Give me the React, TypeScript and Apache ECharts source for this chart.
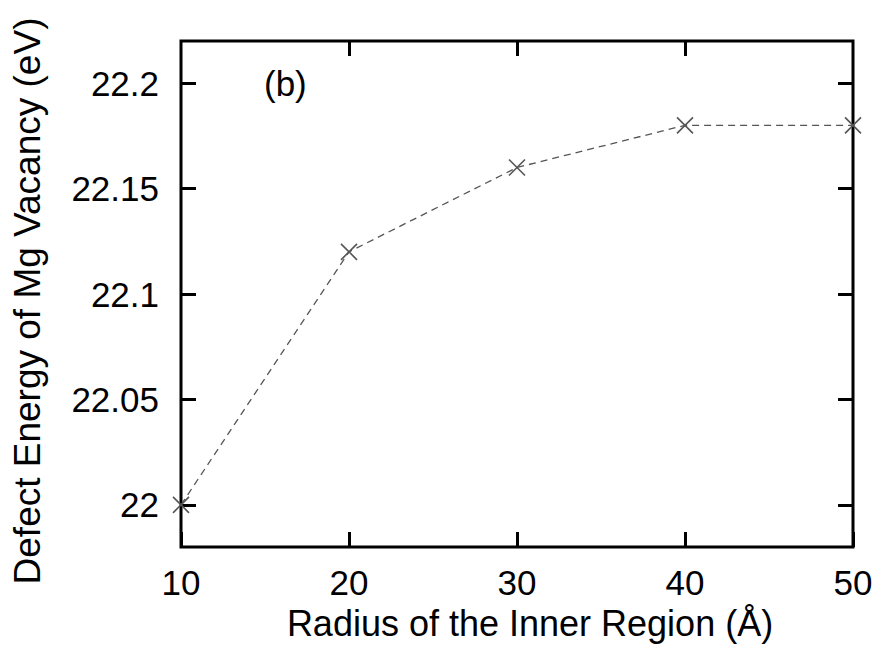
import React, { useEffect, useRef } from "react";
import * as echarts from "echarts";

const radius = [10, 20, 30, 40, 50];
const energy = [22.0, 22.12, 22.16, 22.18, 22.18];
const yTicks = [22, 22.05, 22.1, 22.15, 22.2];
const xTicks = [10, 20, 30, 40, 50];

const FONT = "'Liberation Sans', Arial, Helvetica, sans-serif";

export default function App() {
  const ref = useRef<HTMLDivElement>(null);
  useEffect(() => {
    if (!ref.current) return;
    const chart = echarts.init(ref.current, undefined, { renderer: "svg" });
    const tickCommon = { show: true, inside: true, length: 15, lineStyle: { color: "#000", width: 3 } };
    chart.setOption({
      animation: false,
      backgroundColor: "#fff",
      grid: {
        left: 181,
        top: 41,
        right: 30,
        bottom: 105,
        show: true,
        borderColor: "#000",
        borderWidth: 3,
        backgroundColor: "transparent",
        containLabel: false,
        outerBoundsMode: "none",
      },
      xAxis: [
        {
          type: "value",
          min: 10,
          max: 50,
          interval: 10,
          position: "bottom",
          axisLine: { show: false },
          splitLine: { show: false },
          axisTick: { ...tickCommon, customValues: xTicks },
          axisLabel: {
            customValues: xTicks,
            color: "#000",
            fontSize: 35,
            fontFamily: FONT,
            margin: 18,
          },
          name: "Radius of the Inner Region (Å)",
          nameLocation: "middle",
          nameGap: 58,
          nameTextStyle: { color: "#000", fontSize: 36, fontFamily: FONT, padding: [0, 0, 0, 26] },
        },
        {
          type: "value",
          min: 10,
          max: 50,
          interval: 10,
          position: "top",
          axisLine: { show: false },
          splitLine: { show: false },
          axisTick: { ...tickCommon, customValues: xTicks.slice(1, 4) },
          axisLabel: { show: false },
        },
      ],
      yAxis: [
        {
          type: "value",
          min: 21.98,
          max: 22.22,
          position: "left",
          axisLine: { show: false },
          splitLine: { show: false },
          axisTick: { ...tickCommon, customValues: yTicks },
          axisLabel: {
            customValues: yTicks,
            color: "#000",
            fontSize: 35,
            fontFamily: FONT,
            margin: 22,
          },
          name: "Defect Energy of Mg Vacancy (eV)",
          nameLocation: "middle",
          nameGap: 135,
          nameRotate: 90,
          nameTextStyle: { color: "#000", fontSize: 37, fontFamily: FONT, padding: [0, 14, 0, 0] },
        },
        {
          type: "value",
          min: 21.98,
          max: 22.22,
          position: "right",
          axisLine: { show: false },
          splitLine: { show: false },
          axisTick: { ...tickCommon, customValues: yTicks },
          axisLabel: { show: false },
        },
      ],
      graphic: [
        {
          type: "text",
          left: 264,
          top: 66,
          style: { text: "(b)", fill: "#000", font: `35px ${FONT}` },
        },
      ],
      series: [
        {
          type: "line",
          xAxisIndex: 0,
          yAxisIndex: 0,
          data: radius.map((r, i) => [r, energy[i]]),
          lineStyle: { color: "#555", width: 1.3, type: [7, 5] },
          symbol: "path://M0,0L10,10M10,0L0,10",
          symbolSize: 16,
          showSymbol: true,
          itemStyle: { color: "none", borderColor: "#555", borderWidth: 1.6 },
          clip: false,
          z: 5,
        },
      ],
    });
    return () => chart.dispose();
  }, []);
  return (
    <div
      ref={ref}
      style={{ position: "fixed", left: 0, top: 0, width: 883, height: 652 }}
    />
  );
}
